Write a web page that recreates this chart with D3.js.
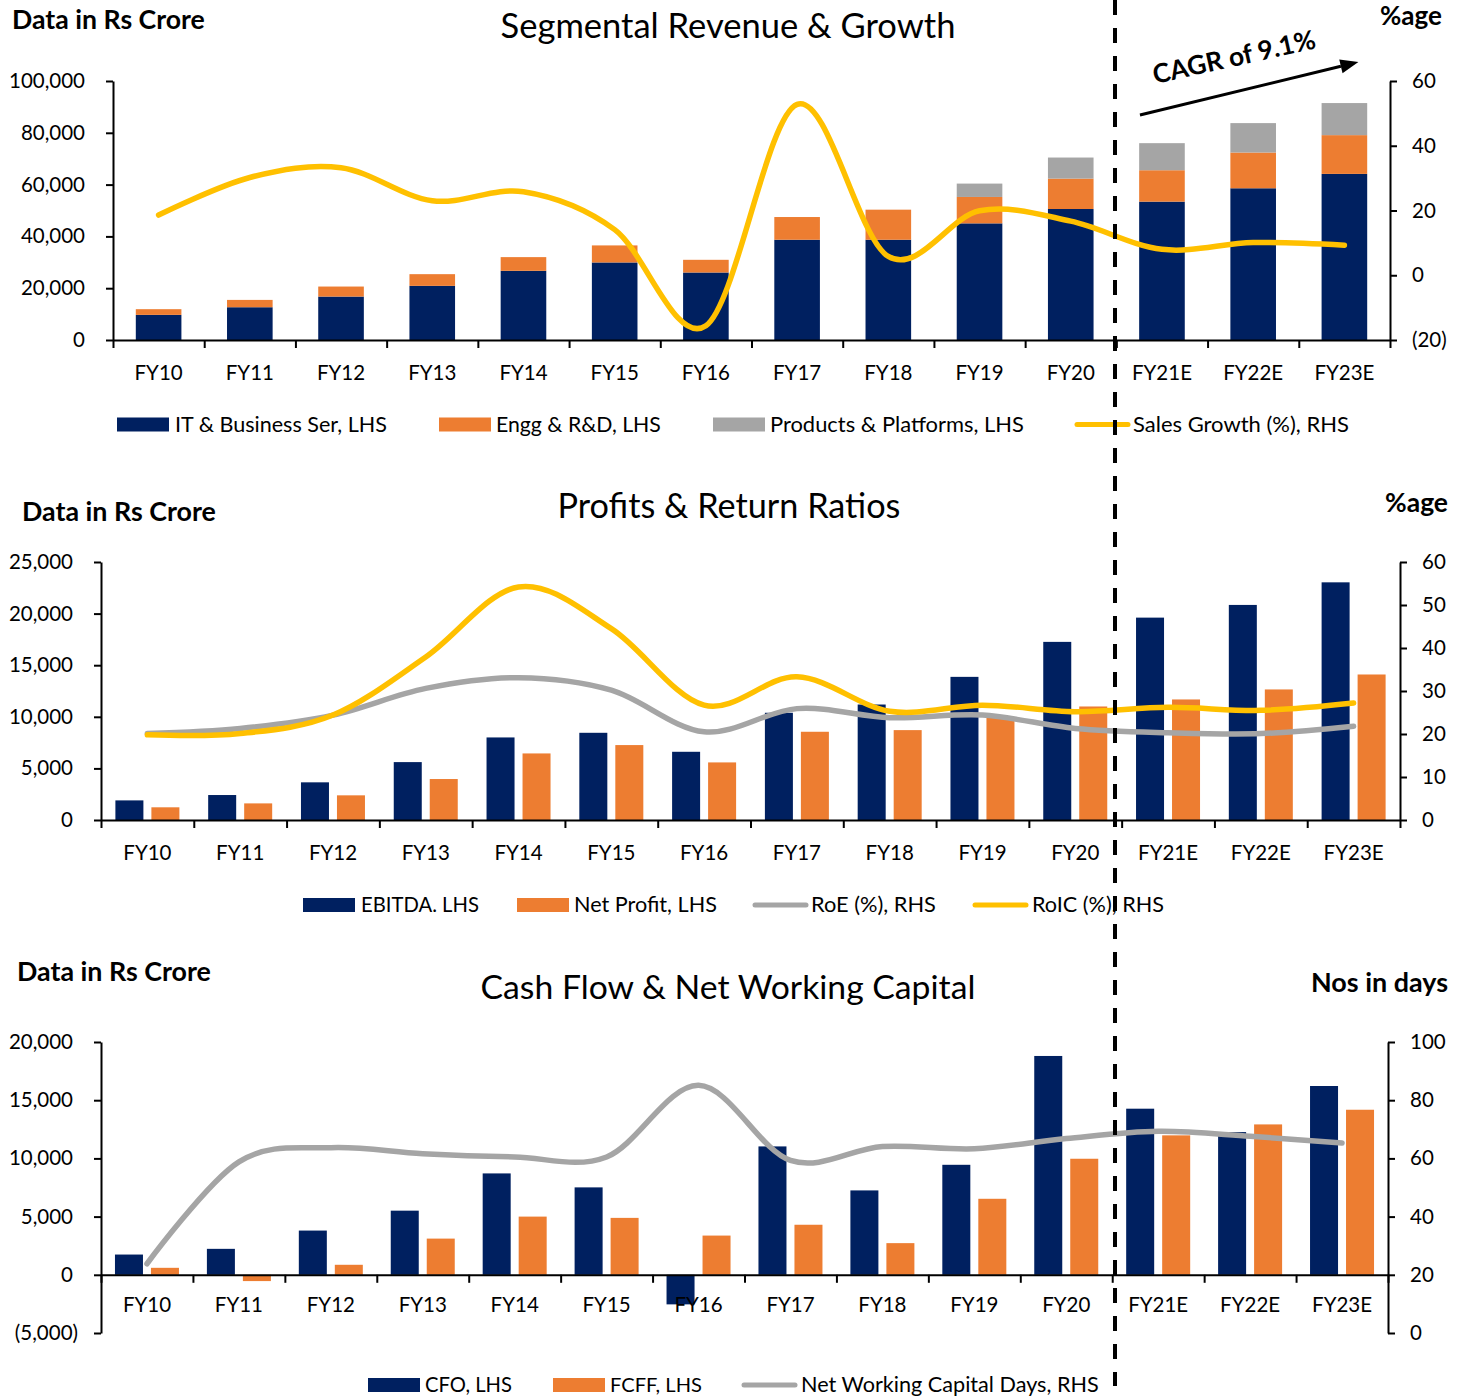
<!DOCTYPE html>
<html>
<head>
<meta charset="utf-8">
<script src="https://cdn.jsdelivr.net/npm/d3@7"></script>
<style>
  html, body { margin: 0; padding: 0; background: #ffffff; }
  svg text { font-family: Lato, "Open Sans", sans-serif; fill: #000; }
</style>
</head>
<body>
<svg id="chart" width="1467" height="1397"></svg>
<script>
// ---------- data ----------
const years = ["FY10","FY11","FY12","FY13","FY14","FY15","FY16","FY17","FY18","FY19","FY20","FY21E","FY22E","FY23E"];

// Segmental revenue (Rs crore) and growth (%)
const itBusinessSer     = [9700, 12650, 16770, 20900, 26710, 29940, 26060, 38710, 38710, 45030, 50580, 53420, 58580, 64130];
const enggRnD           = [2200, 2830, 3870, 4520, 5290, 6580, 4900, 8770, 11610, 10200, 11740, 12130, 13810, 14970];
const productsPlatforms = [0, 0, 0, 0, 0, 0, 0, 0, 0, 5160, 8130, 10450, 11350, 12380];
const salesGrowthPct    = [18.6, 30.2, 33.2, 23.0, 25.8, 14.1, -15.6, 52.8, 5.8, 19.9, 16.7, 8.0, 10.1, 9.3];

// Profits (Rs crore) and return ratios (%)
const ebitda    = [1900, 2420, 3650, 5610, 8000, 8450, 6610, 10390, 11190, 13870, 17260, 19610, 20840, 23030];
const netProfit = [1230, 1610, 2390, 3970, 6450, 7260, 5580, 8550, 8710, 10000, 11000, 11680, 12650, 14100];
const roePct    = [20.1, 21.3, 24.4, 30.6, 33.1, 30.2, 20.5, 25.9, 23.8, 24.4, 21.3, 20.3, 20.1, 21.8];
const roicPct   = [19.8, 20.1, 24.4, 37.9, 54.2, 44.5, 26.7, 33.3, 25.3, 26.7, 25.2, 26.2, 25.5, 27.2];

// Cash flow (Rs crore) and net working capital (days)
const cfo     = [1740, 2230, 3800, 5510, 8710, 7510, -2540, 11030, 7250, 9450, 18800, 14270, 12260, 16220];
const fcff    = [600, -540, 860, 3110, 5000, 4890, 3370, 4300, 2720, 6530, 9970, 11980, 12920, 14180];
const nwcDays = [23.8, 58.8, 63.7, 61.6, 60.5, 60.5, 85.1, 59.3, 64.1, 63.3, 66.8, 69.3, 67.6, 65.3];

// Axis tick values
const revenueTicks = [0, 20000, 40000, 60000, 80000, 100000];
const growthTicks  = [-20, 0, 20, 40, 60];
const profitTicks  = [0, 5000, 10000, 15000, 20000, 25000];
const ratioTicks   = [0, 10, 20, 30, 40, 50, 60];
const cashTicks    = [-5000, 0, 5000, 10000, 15000, 20000];
const dayTicks     = [0, 20, 40, 60, 80, 100];

// ---------- styling ----------
const NAVY = "#002060", ORANGE = "#ED7D31", GREY = "#A5A5A5", GOLD = "#FFC000";
const TICK_FS = 20.5;
const svg = d3.select("#chart");
const numFmt = v => v < 0 ? "(" + d3.format(",")(-v) + ")" : d3.format(",")(v);
const smooth = d3.curveCardinal.tension(0);

function fitText(sel, target) {
  const w = sel.node().getComputedTextLength();
  sel.attr("font-size", parseFloat(sel.attr("font-size")) * target / w);
  return sel;
}

function styleAxis(ax) {
  ax.select(".domain").attr("stroke", "#000").attr("stroke-width", 2);
  ax.selectAll(".tick line").attr("stroke", "#000").attr("stroke-width", 2);
  ax.selectAll(".tick text").attr("font-size", TICK_FS).attr("fill", "#000")
    .style("font-family", "Lato, 'Open Sans', sans-serif");
}

function leftAxis(g, scale, ticks, xPos) {
  const ax = g.append("g").attr("transform", `translate(${xPos},0)`)
    .call(d3.axisLeft(scale).tickValues(ticks).tickSize(7).tickSizeOuter(0)
      .tickPadding(21).tickFormat(numFmt));
  styleAxis(ax);
  ax.selectAll(".tick text").attr("dx", d => d < 0 ? 5 : 0);
}

function rightAxis(g, scale, ticks, xPos) {
  const ax = g.append("g").attr("transform", `translate(${xPos},0)`)
    .call(d3.axisRight(scale).tickValues(ticks).tickSize(7).tickSizeOuter(0)
      .tickPadding(15).tickFormat(numFmt));
  styleAxis(ax);
}

function categoryAxis(g, x, yPos, labelGap) {
  const [r0, r1] = x.range();
  const idx = d3.scaleLinear().domain([0, years.length]).range([r0, r1]);
  const ticks = g.append("g").attr("transform", `translate(0,${yPos})`)
    .call(d3.axisBottom(idx).tickValues(d3.range(years.length + 1))
      .tickSize(8).tickSizeOuter(0).tickFormat(""));
  styleAxis(ticks);
  const labels = g.append("g").attr("transform", `translate(0,${yPos})`)
    .call(d3.axisBottom(x).tickSize(0).tickPadding(labelGap));
  labels.select(".domain").remove();
  styleAxis(labels);
}

function legend(g, items, yc, baseline) {
  items.forEach(it => {
    if (it.kind === "rect") {
      g.append("rect").attr("x", it.x).attr("y", yc - 7).attr("width", 52).attr("height", 14)
        .attr("fill", it.color);
    } else {
      g.append("line").attr("x1", it.x + 2).attr("x2", it.x + 53).attr("y1", yc).attr("y2", yc)
        .attr("stroke", it.color).attr("stroke-width", 5).attr("stroke-linecap", "round");
    }
    const t = g.append("text").attr("x", it.x + it.gap).attr("y", baseline)
      .attr("font-size", 20).text(it.label);
    fitText(t, it.width);
  });
}

function header(g, opts) {
  const t = g.append("text").attr("x", opts.x).attr("y", opts.y)
    .attr("font-size", opts.size).attr("font-weight", opts.bold ? 700 : 400)
    .attr("text-anchor", opts.anchor || "start").text(opts.text);
  fitText(t, opts.width);
  return t;
}

function seriesLine(g, x, scale, values, color) {
  const line = d3.line()
    .x((d, i) => x(years[i]) + x.bandwidth() / 2)
    .y(d => scale(d))
    .curve(smooth);
  g.append("path").datum(values).attr("d", line)
    .attr("fill", "none").attr("stroke", color).attr("stroke-width", 5.5)
    .attr("stroke-linecap", "round").attr("stroke-linejoin", "round");
}

// ---------- Panel 1: Segmental Revenue & Growth ----------
(function () {
  const g = svg.append("g");
  const x = d3.scaleBand().domain(years).range([113, 1390]);
  const yL = d3.scaleLinear().domain([0, 100000]).range([340, 81]);
  const yR = d3.scaleLinear().domain([-20, 60]).range([340, 81]);
  const barW = x.bandwidth() * 0.5;

  const rows = years.map((y, i) => ({ year: y, it: itBusinessSer[i], engg: enggRnD[i], pp: productsPlatforms[i] }));
  const stack = d3.stack().keys(["it", "engg", "pp"])(rows);
  const colors = { it: NAVY, engg: ORANGE, pp: GREY };

  stack.forEach(layer => {
    g.append("g").attr("fill", colors[layer.key])
      .selectAll("rect").data(layer.filter(d => d[1] > d[0])).join("rect")
      .attr("x", d => x(d.data.year) + (x.bandwidth() - barW) / 2)
      .attr("width", barW)
      .attr("y", d => yL(d[1]))
      .attr("height", d => yL(d[0]) - yL(d[1]));
  });

  leftAxis(g, yL, revenueTicks, 113);
  rightAxis(g, yR, growthTicks, 1390);
  categoryAxis(g, x, 340, 25);
  seriesLine(g, x, yR, salesGrowthPct, GOLD);

  header(g, { x: 12, y: 29, size: 23, bold: true, text: "Data in Rs Crore", width: 193 });
  header(g, { x: 1442, y: 25, size: 23, bold: true, anchor: "end", text: "%age", width: 62 });
  header(g, { x: 728, y: 38, size: 31, anchor: "middle", text: "Segmental Revenue & Growth", width: 455 });

  // CAGR annotation arrow across the estimate years
  const xc = yr => x(yr) + x.bandwidth() / 2;
  const ax0 = xc("FY21E") - 22, ay0 = yL(86900);
  const ax1 = xc("FY23E") + 14, ay1 = yL(107300);
  const ang = Math.atan2(ay1 - ay0, ax1 - ax0);
  const head = 18, half = 7;
  const bx = ax1 - head * Math.cos(ang), by = ay1 - head * Math.sin(ang);
  g.append("line").attr("x1", ax0).attr("y1", ay0).attr("x2", bx).attr("y2", by)
    .attr("stroke", "#000").attr("stroke-width", 3);
  g.append("path")
    .attr("d", `M${ax1},${ay1}L${bx - half * Math.sin(ang)},${by + half * Math.cos(ang)}L${bx + half * Math.sin(ang)},${by - half * Math.cos(ang)}Z`)
    .attr("fill", "#000");
  const cagr = g.append("text").attr("transform", "translate(1236,66) rotate(-12.5)")
    .attr("text-anchor", "middle").attr("font-size", 24).attr("font-weight", 700)
    .text("CAGR of 9.1%");
  fitText(cagr, 166);

  legend(g, [
    { kind: "rect", color: NAVY, x: 117, gap: 58, label: "IT & Business Ser, LHS", width: 212 },
    { kind: "rect", color: ORANGE, x: 439, gap: 57, label: "Engg & R&D, LHS", width: 165 },
    { kind: "rect", color: GREY, x: 713, gap: 57, label: "Products & Platforms, LHS", width: 254 },
    { kind: "line", color: GOLD, x: 1075, gap: 58, label: "Sales Growth (%), RHS", width: 216 }
  ], 424.5, 431.5);
})();

// ---------- Panel 2: Profits & Return Ratios ----------
(function () {
  const g = svg.append("g");
  const x = d3.scaleBand().domain(years).range([101, 1400]);
  const yL = d3.scaleLinear().domain([0, 25000]).range([820, 562]);
  const yR = d3.scaleLinear().domain([0, 60]).range([820, 562]);
  const sub = d3.scaleBand().domain(["ebitda", "np"]).range([-32, 32]).paddingInner(0.222);
  const rows = years.map((y, i) => ({ year: y, ebitda: ebitda[i], np: netProfit[i] }));
  const colors = { ebitda: NAVY, np: ORANGE };

  ["ebitda", "np"].forEach(key => {
    g.append("g").attr("fill", colors[key])
      .selectAll("rect").data(rows).join("rect")
      .attr("x", d => x(d.year) + x.bandwidth() / 2 + sub(key))
      .attr("width", sub.bandwidth())
      .attr("y", d => yL(d[key]))
      .attr("height", d => yL(0) - yL(d[key]));
  });

  leftAxis(g, yL, profitTicks, 101);
  rightAxis(g, yR, ratioTicks, 1400);
  categoryAxis(g, x, 820, 25);
  seriesLine(g, x, yR, roePct, GREY);
  seriesLine(g, x, yR, roicPct, GOLD);

  header(g, { x: 22, y: 521, size: 23, bold: true, text: "Data in Rs Crore", width: 194 });
  header(g, { x: 1448, y: 512, size: 23, bold: true, anchor: "end", text: "%age", width: 63 });
  header(g, { x: 729, y: 518, size: 31, anchor: "middle", text: "Profits & Return Ratios", width: 343 });

  legend(g, [
    { kind: "rect", color: NAVY, x: 303, gap: 58, label: "EBITDA. LHS", width: 118 },
    { kind: "rect", color: ORANGE, x: 517, gap: 57, label: "Net Profit, LHS", width: 143 },
    { kind: "line", color: GREY, x: 753, gap: 58, label: "RoE (%), RHS", width: 125 },
    { kind: "line", color: GOLD, x: 973, gap: 59, label: "RoIC (%), RHS", width: 132 }
  ], 905, 912);
})();

// ---------- Panel 3: Cash Flow & Net Working Capital ----------
(function () {
  const g = svg.append("g");
  const x = d3.scaleBand().domain(years).range([101, 1388]);
  const yL = d3.scaleLinear().domain([-5000, 20000]).range([1333, 1042]);
  const yR = d3.scaleLinear().domain([0, 100]).range([1333, 1042]);
  const sub = d3.scaleBand().domain(["cfo", "fcff"]).range([-32, 32]).paddingInner(0.222);
  const rows = years.map((y, i) => ({ year: y, cfo: cfo[i], fcff: fcff[i] }));
  const colors = { cfo: NAVY, fcff: ORANGE };

  ["cfo", "fcff"].forEach(key => {
    g.append("g").attr("fill", colors[key])
      .selectAll("rect").data(rows).join("rect")
      .attr("x", d => x(d.year) + x.bandwidth() / 2 + sub(key))
      .attr("width", sub.bandwidth())
      .attr("y", d => yL(Math.max(0, d[key])))
      .attr("height", d => Math.abs(yL(d[key]) - yL(0)));
  });

  leftAxis(g, yL, cashTicks, 101);
  rightAxis(g, yR, dayTicks, 1388);
  categoryAxis(g, x, yL(0), 23);
  seriesLine(g, x, yR, nwcDays, GREY);

  header(g, { x: 17, y: 981, size: 23, bold: true, text: "Data in Rs Crore", width: 194 });
  header(g, { x: 1448, y: 992, size: 23, bold: true, anchor: "end", text: "Nos in days", width: 137 });
  header(g, { x: 728, y: 999, size: 31, anchor: "middle", text: "Cash Flow & Net Working Capital", width: 495 });

  legend(g, [
    { kind: "rect", color: NAVY, x: 368, gap: 57, label: "CFO, LHS", width: 87 },
    { kind: "rect", color: ORANGE, x: 553, gap: 57, label: "FCFF, LHS", width: 92 },
    { kind: "line", color: GREY, x: 742, gap: 59, label: "Net Working Capital Days, RHS", width: 298 }
  ], 1385, 1392);
})();

// ---------- actual / estimate divider ----------
svg.append("line").attr("x1", 1115).attr("x2", 1115).attr("y1", 0).attr("y2", 1386)
  .attr("stroke", "#000").attr("stroke-width", 4).attr("stroke-dasharray", "15,13");
</script>
</body>
</html>
